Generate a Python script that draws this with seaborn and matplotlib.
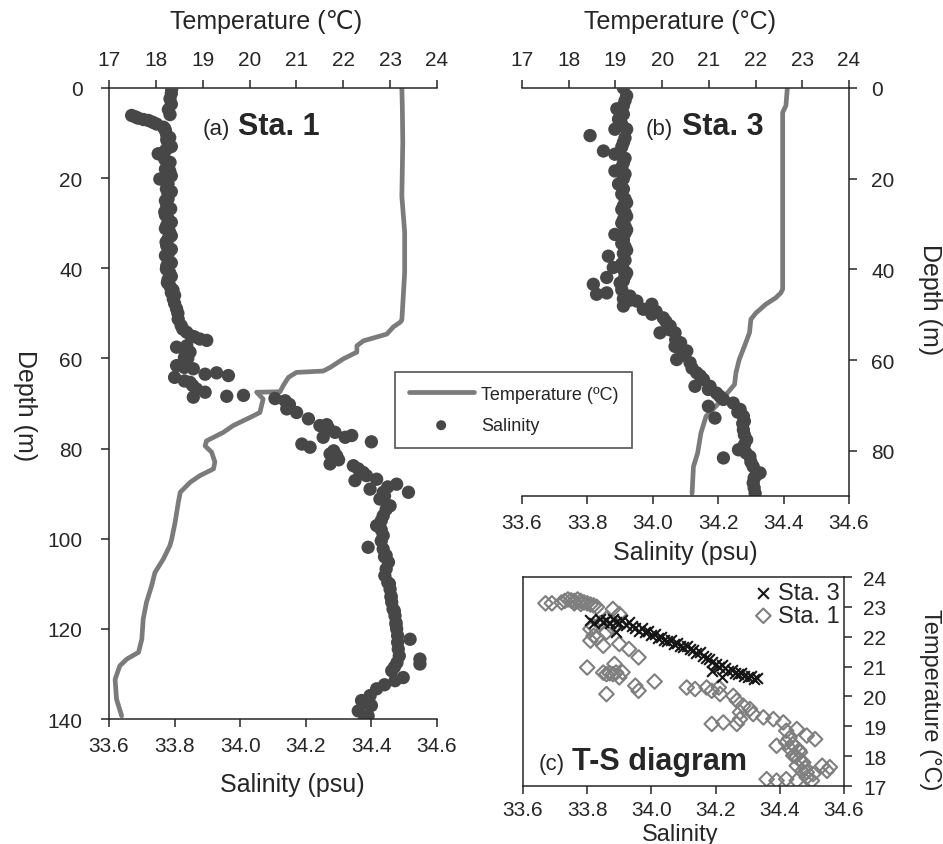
import matplotlib
matplotlib.use("Agg")
import matplotlib.pyplot as plt
import seaborn as sns

# ---- Sta. 1 profile ----
t1_depth = [0, 4, 12, 24, 32, 41, 51.5, 52, 53, 54.6, 56.1, 57.2, 58.6, 60.1, 62, 62.8, 63.1, 64.2, 66,
            67.4, 67.5, 69, 72, 73.1, 74.9, 76.4, 78.3, 79.4, 80.8, 83, 84.5, 86, 87.5, 89.7, 91.9, 96.4,
            100, 101.5, 104.5, 107.5, 110.4, 114.1, 117.8, 122.3, 125.2, 126.7, 128.2, 131.2, 135.6, 139.3]
t1_temp = [23.25, 23.26, 23.27, 23.25, 23.31, 23.31, 23.25, 23.21, 23.07, 22.93, 22.43, 22.29, 22.29, 22.0,
           21.72, 21.57, 21.0, 20.83, 20.72, 20.65, 20.15, 20.29, 20.22, 20.01, 19.65, 19.44, 19.08, 19.05,
           19.19, 19.26, 19.23, 18.94, 18.73, 18.52, 18.48, 18.41, 18.34, 18.30, 18.16, 17.98, 17.91, 17.80,
           17.73, 17.70, 17.63, 17.38, 17.23, 17.13, 17.16, 17.27]

s1_depth = [0.2, 1.2, 2.4, 3.6, 4.8, 5.9, 6.1, 6.4, 6.7, 7.0, 7.2, 7.6, 8.0, 8.7, 9.5, 10.4, 12.1, 13.4, 14.6,
            15.8, 17.3, 18.4, 19.5, 20.2, 21.3, 22.4, 23.5, 24.6, 26, 27.5, 29, 30.5, 32, 33.5, 35, 36.5, 38,
            39.5, 41, 42.5, 44, 45.4, 46.8, 49, 51.3, 52.7, 54.2, 55.7, 56, 55.2, 57.2, 57.5, 58.6, 59.8, 60.9,
            61.6, 62.3, 63.2, 63.5, 63.8, 64.2, 65.3, 66.8, 67.5, 68.6, 68.4, 68.2, 68.9, 69.4, 71.2, 72.0,
            73.4, 74.9, 74.7, 76.4, 77.5, 77.5, 77.1, 78.5, 79.0, 79.7, 81.2, 81.6, 83.4, 83.8, 85.3, 86.8,
            87.1, 87.9, 89.0, 89.7, 89.7, 91.2, 92.7, 94.9, 97.1, 99.3, 101.9, 102.3, 103.7, 105.2, 106.7,
            108.2, 109.7, 111.2, 112.7, 114.1, 115.6, 117.1, 118.6, 120.0, 122.3, 121.5, 123, 124.5, 126.7,
            127.8, 126, 127.5, 129.3, 130.8, 131.5, 132.4, 133.3, 134.8, 135.9, 137.0, 138.2, 139.3, 140,
            9, 11, 11.5, 13, 14, 16.5, 18, 19, 21, 23, 25, 26.8, 28.2, 29.8, 31.2, 32.8, 34.2, 35.8, 37.2,
            38.8, 40.2, 41.8, 43.2, 44.8, 46, 47.8, 50, 53.5, 55, 58, 60, 62, 65, 66, 70.2, 75.6, 80.5, 82.5,
            84.5, 86, 88.5, 90.5, 93.5, 96, 98, 100.5, 104, 110, 113, 116, 119, 128.5, 136.5]
s1_sal = [33.791, 33.79, 33.786, 33.79, 33.781, 33.786, 33.669, 33.68, 33.689, 33.705, 33.72, 33.733, 33.745,
          33.766, 33.772, 33.776, 33.78, 33.778, 33.75, 33.77, 33.78, 33.785, 33.79, 33.755, 33.78, 33.775,
          33.78, 33.78, 33.776, 33.77, 33.78, 33.776, 33.785, 33.78, 33.776, 33.782, 33.78, 33.776, 33.785,
          33.78, 33.786, 33.79, 33.796, 33.806, 33.811, 33.82, 33.837, 33.877, 33.898, 33.86, 33.837, 33.806,
          33.847, 33.83, 33.827, 33.806, 33.857, 33.928, 33.893, 33.964, 33.80, 33.847, 33.867, 33.893,
          33.857, 33.959, 34.01, 34.106, 34.137, 34.142, 34.172, 34.208, 34.243, 34.264, 34.289, 34.253,
          34.32, 34.34, 34.40, 34.188, 34.213, 34.274, 34.294, 34.274, 34.345, 34.375, 34.416, 34.35, 34.477,
          34.396, 34.436, 34.513, 34.426, 34.457, 34.436, 34.416, 34.436, 34.39, 34.436, 34.445, 34.452,
          34.445, 34.441, 34.45, 34.457, 34.46, 34.462, 34.466, 34.472, 34.475, 34.477, 34.518, 34.48, 34.48,
          34.482, 34.548, 34.548, 34.485, 34.478, 34.462, 34.497, 34.472, 34.44, 34.416, 34.396, 34.37,
          34.40, 34.36, 34.39, 34.38,
          33.77, 33.785, 33.776, 33.79, 33.77, 33.786, 33.772, 33.786, 33.775, 33.79, 33.772, 33.788,
          33.772, 33.79, 33.772, 33.79, 33.774, 33.79, 33.772, 33.79, 33.775, 33.79, 33.778, 33.795, 33.80,
          33.80, 33.81, 33.825, 33.85, 33.83, 33.84, 33.83, 33.83, 33.855, 34.15, 34.27, 34.285, 34.30,
          34.36, 34.385, 34.45, 34.44, 34.445, 34.43, 34.43, 34.43, 34.44, 34.455, 34.46, 34.47, 34.475,
          34.47, 34.385]

# ---- Sta. 3 profile ----
t3_depth = [0, 3.9, 5.4, 24.5, 44.4, 45.2, 46.3, 47.7, 49.6, 51, 54, 57, 59.9, 62.8, 65.4, 67.6, 70.2,
            72.4, 76.1, 80.5, 83.5, 89.4]
t3_temp = [22.68, 22.65, 22.58, 22.58, 22.58, 22.54, 22.43, 22.22, 22.01, 21.90, 21.87, 21.76, 21.65, 21.58,
           21.55, 21.37, 21.15, 20.94, 20.83, 20.76, 20.67, 20.64]

s3_depth = [0, 1.7, 3.9, 4.6, 6.9, 9.1, 9.1, 10.5, 12, 13.9, 14.6, 16.5, 18.3, 20, 21.2, 22.3, 24.5, 26,
            27.5, 29, 30.5, 32.3, 32, 33.5, 35, 37.1, 36.5, 38, 39.6, 40, 41.5, 41.8, 43.3, 43, 44.5, 45.5,
            45.2, 45.9, 47, 46.5, 48.1, 47.7, 48.8, 49.9, 50.7, 52.5, 54, 54, 55.5, 57, 58, 59.9, 60.6, 61.8,
            62.8, 64.3, 65.8, 65.8, 67.3, 68.7, 70.2, 69.5, 70.9, 72.4, 72.8, 74, 75.4, 76.5, 77.6, 78.7,
            79.8, 81.6, 81.3, 82.5, 83.5, 84.9, 86, 87.1, 88.2, 89.4,
            2.8, 5.8, 8, 11, 13, 15.5, 17.5, 19, 23.4, 25.3, 26.8, 28.3, 29.8, 31.3, 34.3, 35.8, 38.8, 40.8,
            42.5, 46.8, 49.3, 51.5, 53.3, 56.2, 59, 63.5, 66.5, 68, 71.5, 73.5, 80.5, 85.5]
s3_sal = [33.91, 33.92, 33.91, 33.89, 33.895, 33.884, 33.92, 33.808, 33.91, 33.849, 33.884, 33.91, 33.884,
          33.91, 33.895, 33.91, 33.915, 33.91, 33.915, 33.91, 33.915, 33.884, 33.915, 33.91, 33.915, 33.864,
          33.91, 33.915, 33.879, 33.91, 33.915, 33.859, 33.818, 33.9, 33.905, 33.828, 33.859, 33.93, 33.951,
          33.91, 33.91, 33.997, 33.971, 33.997, 34.032, 34.053, 34.022, 34.068, 34.07, 34.068, 34.104,
          34.073, 34.114, 34.12, 34.134, 34.155, 34.129, 34.175, 34.195, 34.216, 34.17, 34.246, 34.267,
          34.277, 34.19, 34.275, 34.277, 34.28, 34.287, 34.28, 34.262, 34.216, 34.297, 34.30, 34.307,
          34.328, 34.31, 34.307, 34.31, 34.313,
          33.915, 33.91, 33.905, 33.915, 33.905, 33.915, 33.905, 33.915, 33.905, 33.92, 33.905, 33.92,
          33.905, 33.92, 33.905, 33.92, 33.905, 33.92, 33.91, 33.93, 34.01, 34.04, 34.05, 34.085, 34.09,
          34.145, 34.17, 34.205, 34.26, 34.28, 34.285, 34.315]

# ---- T-S diagram ----
ts1_sal = [33.67, 33.69, 33.72, 33.73, 33.74, 33.75, 33.76, 33.77, 33.78, 33.79, 33.80, 33.81, 33.82, 33.83,
           33.76, 33.78, 33.88, 33.90, 33.86, 33.84, 33.82, 33.81, 33.82, 33.81, 33.83, 33.85, 33.86, 33.88,
           33.90, 33.93, 33.96, 33.80, 33.885, 33.85, 33.86, 33.87, 33.88, 33.89, 33.91, 33.90, 33.86, 33.96,
           33.95, 34.01,
           34.11, 34.136, 34.172, 34.188, 34.214, 34.21, 34.255, 34.266, 34.286, 34.276, 34.307, 34.188,
           34.224, 34.266, 34.276, 34.317, 34.349, 34.38, 34.411, 34.42, 34.453, 34.484, 34.51, 34.39, 34.42,
           34.432, 34.442, 34.463, 34.453, 34.473, 34.484, 34.504, 34.532, 34.547, 34.556, 34.359, 34.39,
           34.42, 34.453, 34.484, 34.50, 34.43, 34.44, 34.45, 34.46, 34.45, 34.46, 34.47, 34.48, 34.47]
ts1_temp = [23.12, 23.12, 23.15, 23.2, 23.25, 23.22, 23.2, 23.25, 23.2, 23.15, 23.12, 23.08, 23.05, 23.0,
            23.12, 23.1, 22.93, 22.76, 22.6, 22.45, 22.35, 22.26, 22.03, 21.87, 21.95, 21.7, 22.15, 22.3,
            21.76, 21.59, 21.31, 20.97, 21.09, 20.8, 20.75, 20.78, 20.75, 20.8, 20.81, 20.64, 20.08, 20.19,
            20.36, 20.5,
            20.30, 20.25, 20.30, 20.19, 20.08, 20.30, 20.02, 19.86, 19.69, 19.47, 19.58, 19.08, 19.13, 19.08,
            19.24, 19.41, 19.30, 19.24, 19.13, 18.85, 18.91, 18.69, 18.57, 18.35, 18.46, 18.24, 18.02, 18.13,
            17.68, 17.79, 17.46, 17.40, 17.68, 17.51, 17.63, 17.23, 17.18, 17.23, 17.18, 17.29, 17.18, 18.6,
            18.4, 18.3, 18.2, 18.0, 17.9, 17.8, 17.6, 17.5]

ts3_sal = [33.81, 33.82, 33.84, 33.85, 33.86, 33.87, 33.88, 33.89, 33.89, 33.90, 33.91, 33.92, 33.93, 33.94,
           33.95, 33.96, 33.97, 33.98, 33.99, 34.00, 34.01, 34.02, 34.03, 34.04, 34.05, 34.06, 34.07, 34.08,
           34.09, 34.10, 34.11, 34.12, 34.13, 34.14, 34.15, 34.16, 34.17, 34.18, 34.19, 34.19, 34.20, 34.21,
           34.22, 34.22, 34.23, 34.24, 34.25, 34.26, 34.27, 34.28, 34.29, 34.30, 34.31, 34.32, 34.33]
ts3_temp = [22.55, 22.45, 22.6, 22.5, 22.55, 22.45, 22.6, 22.5, 22.15, 22.45, 22.55, 22.4, 22.5, 22.35,
            22.3, 22.2, 22.3, 22.15, 22.2, 22.05, 22.1, 21.95, 22.0, 21.9, 21.85, 21.9, 21.75, 21.8, 21.7,
            21.65, 21.7, 21.6, 21.55, 21.45, 21.5, 21.35, 21.3, 21.25, 21.15, 20.86, 21.1, 21.0, 20.64, 21.05,
            20.95, 20.85, 20.9, 20.8, 20.75, 20.8, 20.7, 20.65, 20.7, 20.6, 20.62]

temp_ticks = [17, 18, 19, 20, 21, 22, 23, 24]
sal_ticks = [33.6, 33.8, 34.0, 34.2, 34.4, 34.6]
depth_ticks_1 = [0, 20, 40, 60, 80, 100, 120, 140]
depth_ticks_3 = [0, 20, 40, 60, 80]

ink = "#262626"
line_grey = "#7b7b7b"
dot_grey = "#474747"
diamond_grey = "#7f7f7f"

sns.set_style("ticks")
plt.rcParams["font.family"] = ["Liberation Sans", "DejaVu Sans"]
plt.rcParams["text.color"] = ink
plt.rcParams["axes.edgecolor"] = ink
plt.rcParams["axes.linewidth"] = 1.1

fig = plt.figure(figsize=(9.43, 8.45), dpi=100)


def style_ticks(ax, **kw):
    ax.tick_params(direction="out", length=6, width=1.1, color=ink, labelcolor=ink, labelsize=15, **kw)


def profile_panel(rect, depth_max, depth_ticks, t_depth, t_temp, s_depth, s_sal, side):
    axT = fig.add_axes(rect)
    sns.lineplot(x=t_temp, y=t_depth, sort=False, estimator=None, color=line_grey, linewidth=3.4,
                 ax=axT, label="Temperature (ºC)", legend=False)
    axT.set_xlim(17, 24)
    axT.set_xticks(temp_ticks)
    axT.set_ylim(depth_max, 0)
    axT.set_yticks(depth_ticks)
    if side == "right":
        axT.yaxis.tick_right()
    axT.grid(False)

    axS = axT.twiny()
    sns.scatterplot(x=s_sal, y=s_depth, color=dot_grey, s=92, edgecolor="none", ax=axS,
                    label="Salinity", legend=False)
    axS.set_xlim(33.6, 34.6)
    axS.set_xticks(sal_ticks)
    axS.set_xticklabels([f"{v:.1f}" for v in sal_ticks])
    axS.set_ylim(depth_max, 0)
    axS.grid(False)
    # twiny puts the new axis on top; swap so temperature is on top, salinity at the bottom
    axT.xaxis.tick_top()
    axS.xaxis.tick_bottom()

    for sp in ["top", "left", "right"]:
        axS.spines[sp].set_visible(False)
    axT.spines["bottom"].set_visible(False)
    axT.spines["left" if side == "right" else "right"].set_visible(False)

    style_ticks(axT, axis="x", pad=8)
    style_ticks(axT, axis="y", pad=13 if side == "left" else 10)
    style_ticks(axS, axis="x", pad=6)
    return axT, axS


# (a) Sta. 1
a_T, a_S = profile_panel([0.1156, 0.1479, 0.3478, 0.7468], 140, depth_ticks_1,
                         t1_depth, t1_temp, s1_depth, s1_sal, "left")
a_T.text(0.479, 1.106, "Temperature (℃)", transform=a_T.transAxes, ha="center", va="center", fontsize=18)
a_S.text(0.558, -0.103, "Salinity (psu)", transform=a_S.transAxes, ha="center", va="center", fontsize=18)
a_T.text(-0.256, 0.499, "Depth (m)", transform=a_T.transAxes, ha="center", va="center", fontsize=18,
         rotation=270)

# (b) Sta. 3
b_T, b_S = profile_panel([0.5536, 0.4118, 0.3467, 0.4829], 90, depth_ticks_3,
                         t3_depth, t3_temp, s3_depth, s3_sal, "right")
b_T.text(0.483, 1.164, "Temperature (°C)", transform=b_T.transAxes, ha="center", va="center", fontsize=18)
b_S.text(0.498, -0.137, "Salinity (psu)", transform=b_S.transAxes, ha="center", va="center", fontsize=18)
b_T.text(1.248, 0.483, "Depth (m)", transform=b_T.transAxes, ha="center", va="center", fontsize=18,
         rotation=270)

fig.text(0.2439, 0.8402, "(a)", ha="right", va="baseline", fontsize=16)
fig.text(0.2524, 0.8402, "Sta. 1", ha="left", va="baseline", fontsize=22, fontweight="bold")
fig.text(0.7137, 0.8402, "(b)", ha="right", va="baseline", fontsize=16)
fig.text(0.7232, 0.8402, "Sta. 3", ha="left", va="baseline", fontsize=22, fontweight="bold")

# shared legend for the two profiles
leg = fig.legend(handles=[a_T.lines[0], a_S.collections[0]], labels=["Temperature (ºC)", "Salinity"],
                 loc="upper left", bbox_to_anchor=(0.419, 0.5586), fontsize=13, frameon=True,
                 fancybox=False, handlelength=3.6, handletextpad=0.4, labelspacing=0.8,
                 borderpad=0.75, borderaxespad=0, scatterpoints=1, markerscale=0.75)
leg.get_frame().set_edgecolor(ink)
leg.get_frame().set_linewidth(1.2)

# (c) T-S diagram
axC = fig.add_axes([0.5546, 0.0686, 0.3404, 0.2473])
sns.scatterplot(x=ts1_sal, y=ts1_temp, marker="D", s=55, facecolors="none", edgecolor=diamond_grey,
                linewidth=1.5, ax=axC, label="Sta. 1", legend=False)
sns.scatterplot(x=ts3_sal, y=ts3_temp, marker="x", s=60, color="#151515", linewidth=1.5, ax=axC,
                label="Sta. 3", legend=False)
axC.set_xlim(33.6, 34.6)
axC.set_ylim(17, 24)
axC.set_xticks(sal_ticks)
axC.set_xticklabels([f"{v:.1f}" for v in sal_ticks])
axC.set_yticks(temp_ticks)
axC.yaxis.tick_right()
axC.grid(False)
style_ticks(axC, axis="x", pad=4)
style_ticks(axC, axis="y", pad=8)
axC.text(0.489, -0.23, "Salinity", transform=axC.transAxes, ha="center", va="center", fontsize=17)
axC.text(1.268, 0.416, "Temperature (°C)", transform=axC.transAxes, ha="center", va="center",
         fontsize=17, rotation=270)
h = axC.collections
axC.legend(handles=[h[1], h[0]], labels=["Sta. 3", "Sta. 1"], loc="upper right", frameon=False,
           fontsize=17, handletextpad=0.1, borderaxespad=0.1, borderpad=0.1, labelspacing=0.05,
           handlelength=1.0, scatterpoints=1)
fig.text(0.5992, 0.0888, "(c)", ha="right", va="baseline", fontsize=16)
fig.text(0.6066, 0.0888, "T-S diagram", ha="left", va="baseline", fontsize=22, fontweight="bold")

fig.savefig("out.png", dpi=100)
